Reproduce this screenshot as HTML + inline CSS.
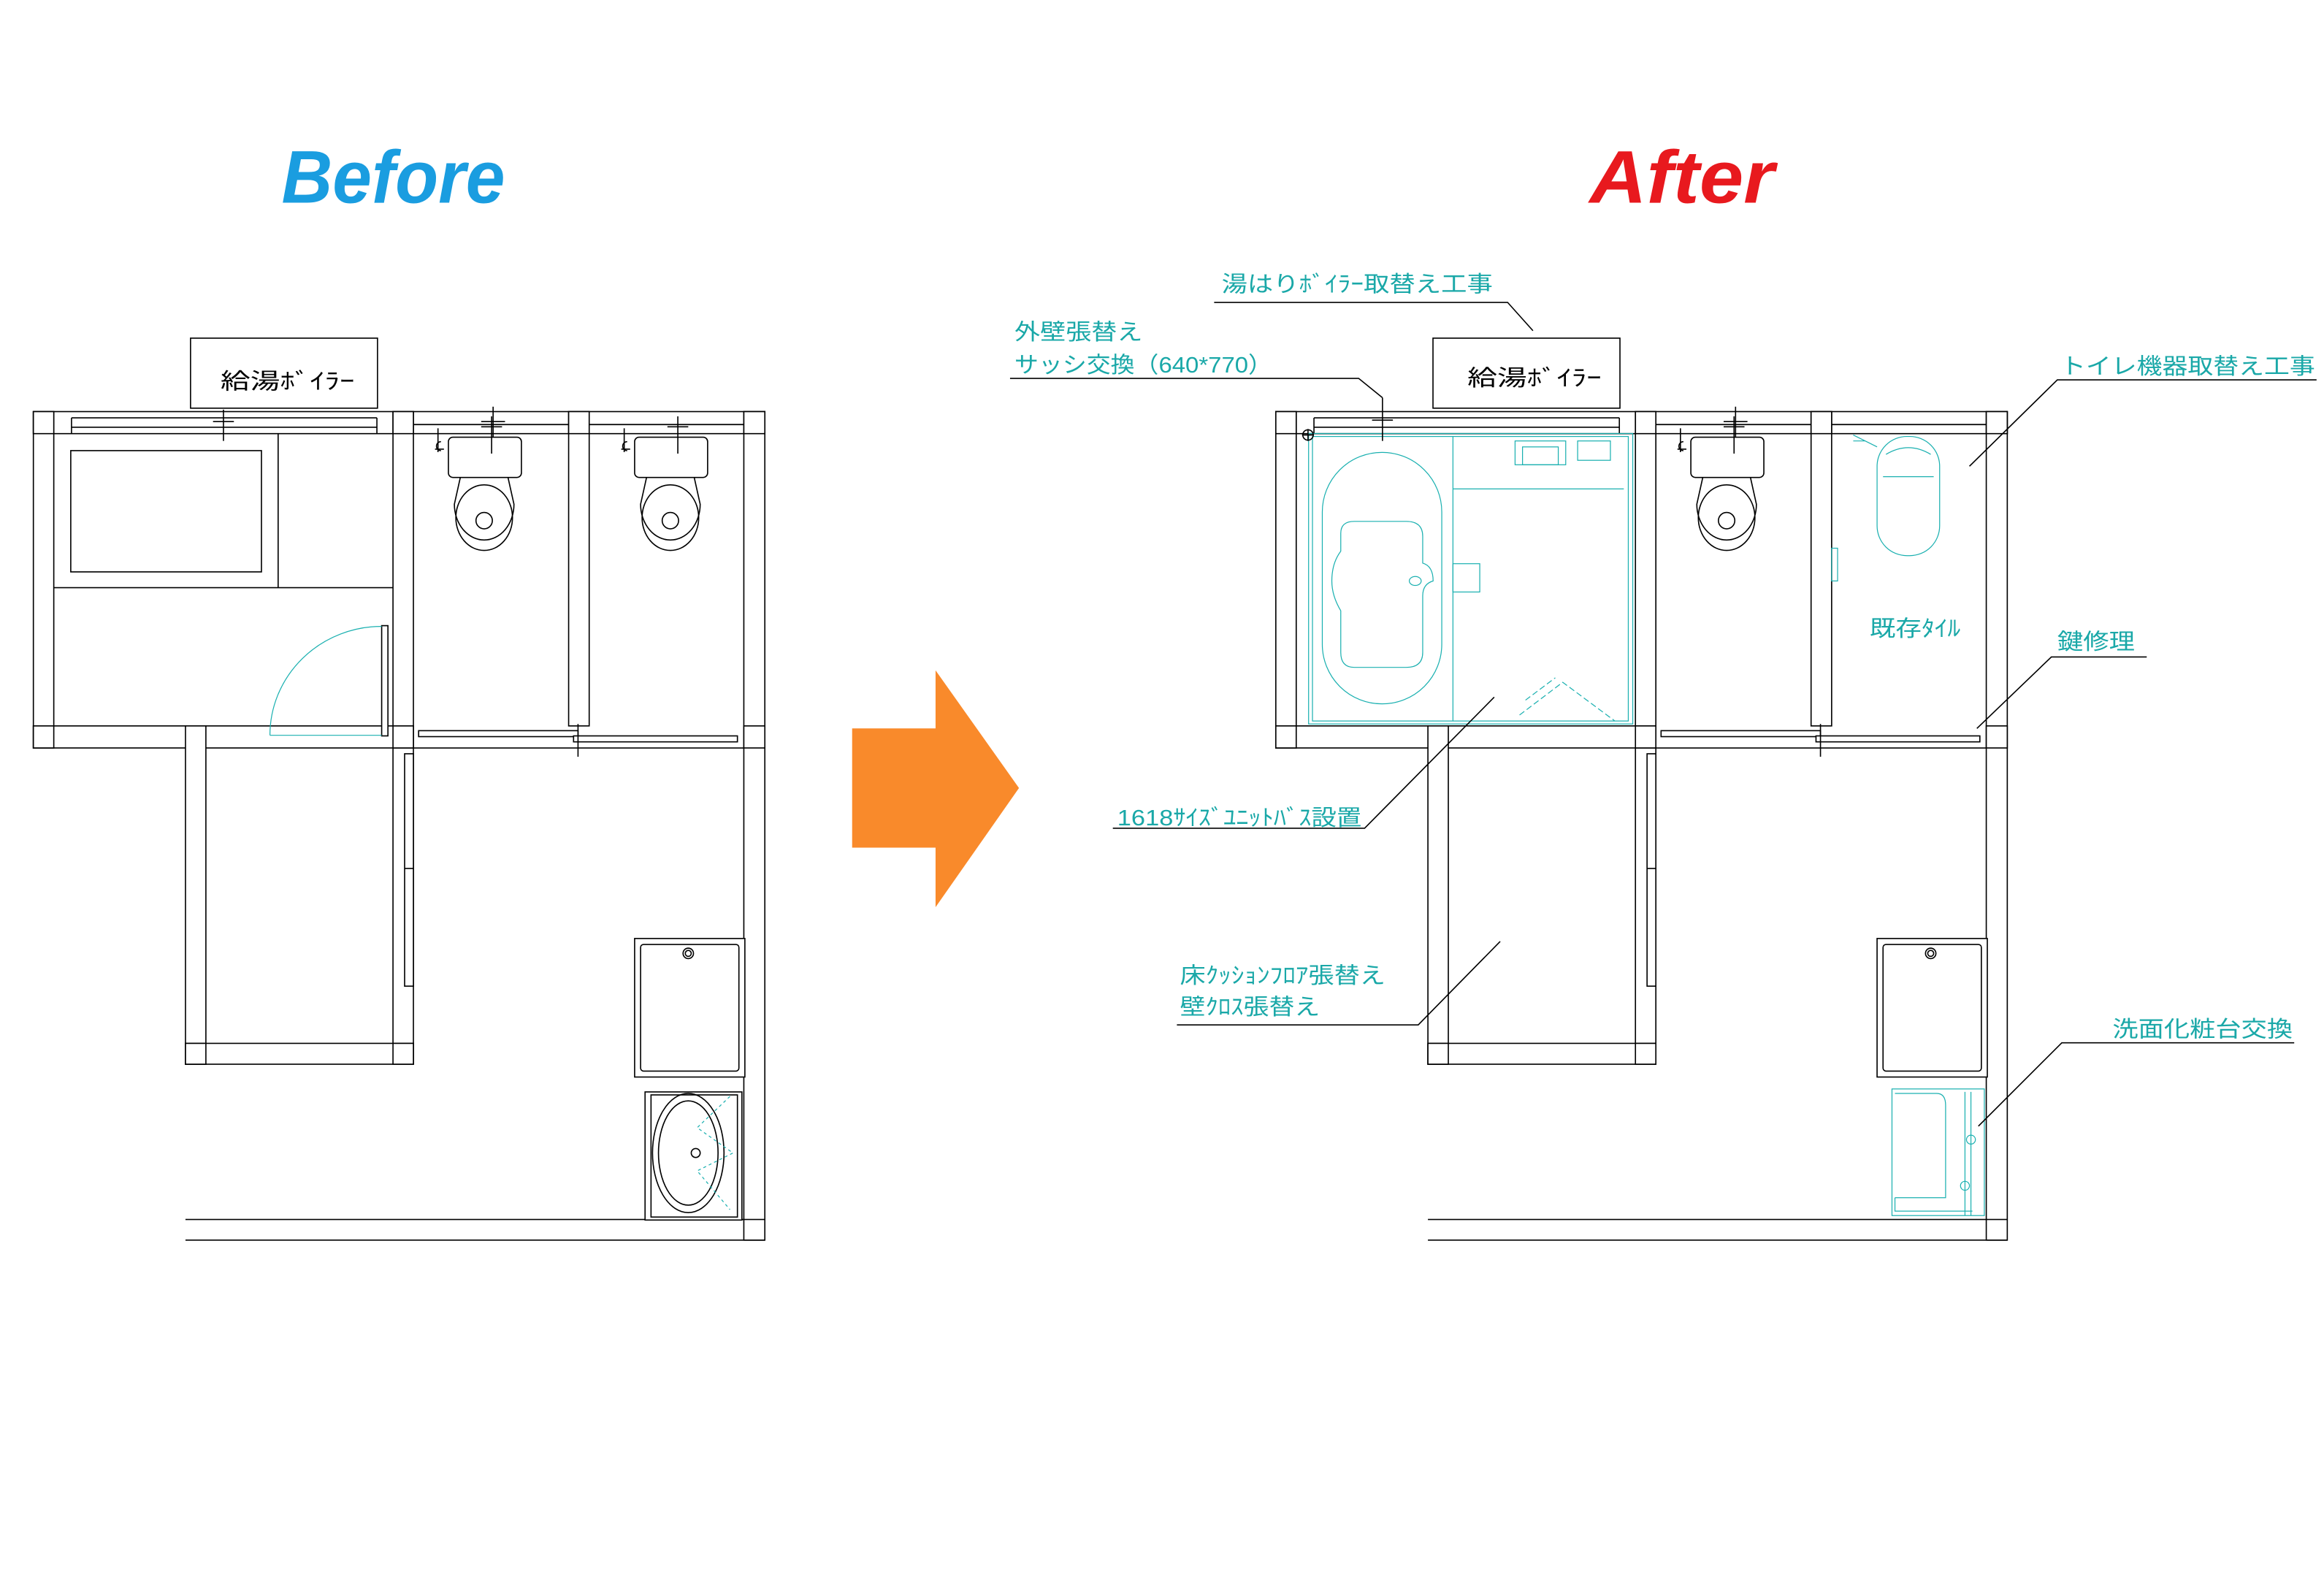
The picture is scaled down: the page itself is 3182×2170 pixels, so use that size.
<!DOCTYPE html>
<html><head><meta charset="utf-8"><style>
html,body{margin:0;padding:0;background:#fff;width:3182px;height:2170px;overflow:hidden}
svg{display:block}
.w{fill:#fff;stroke:#000;stroke-width:0.8}
.l{stroke:#000;stroke-width:0.8;fill:none}
.c{stroke:#1ab0b0;stroke-width:0.6;fill:none}
.t{font-family:"Liberation Sans","Noto Sans CJK JP",sans-serif;font-size:15px;fill:#1aa8a8}
.k{font-family:"Liberation Sans","Noto Sans CJK JP",sans-serif;font-size:15px;fill:#000}
</style></head><body>
<svg width="3182" height="2170" viewBox="0 0 1560 1064" preserveAspectRatio="none" xmlns="http://www.w3.org/2000/svg">
<defs>
<g id="plan">
 <!-- boiler box -->
 <rect class="w" x="127.9" y="227" width="125.5" height="47"/>
 <!-- top wall -->
 <rect class="w" x="22.4" y="276.3" width="491" height="14.8"/>
 <line class="l" x1="48" y1="280.5" x2="253" y2="280.5"/>
 <line class="l" x1="48" y1="286.8" x2="253" y2="286.8"/>
 <line class="l" x1="48" y1="280.5" x2="48" y2="291"/>
 <line class="l" x1="253" y1="280.5" x2="253" y2="291"/>
 <line class="l" x1="277.5" y1="285" x2="381.7" y2="285"/>
 <line class="l" x1="395.5" y1="285" x2="499.3" y2="285"/>
 <!-- upper left wall -->
 <rect class="w" x="22.4" y="276.3" width="13.7" height="225.8"/>
 <rect class="w" x="22.4" y="276.3" width="13.7" height="14.8"/>
 <!-- bath/toilet wall -->
 <rect class="w" x="263.8" y="276.3" width="13.7" height="438"/>
 <rect class="w" x="263.8" y="276.3" width="13.7" height="14.8"/>
 <!-- toilet divider -->
 <rect class="w" x="381.7" y="276.3" width="13.8" height="211"/>
 <rect class="w" x="381.7" y="276.3" width="13.8" height="14.8"/>
 <!-- right wall -->
 <rect class="w" x="499.3" y="276.3" width="14.1" height="556.2"/>
 <rect class="w" x="499.3" y="276.3" width="14.1" height="14.8"/>
 <rect class="w" x="499.3" y="487.3" width="14.1" height="14.8"/>
 <!-- lower wall of bath -->
 <rect class="w" x="22.4" y="487.3" width="255" height="14.8"/>
 <rect class="w" x="22.4" y="487.3" width="13.7" height="14.8"/>
 <rect class="w" x="263.8" y="487.3" width="13.7" height="14.8"/>
 <!-- toilet sliding doors -->
 <rect class="w" x="281" y="490.5" width="107" height="4"/>
 <rect class="w" x="385" y="494" width="110" height="4"/>
 <line class="l" x1="277.5" y1="502.1" x2="499.3" y2="502.1"/>
 <line class="l" x1="388" y1="486" x2="388" y2="508"/>
 <!-- closet -->
 <rect class="w" x="124.5" y="487.3" width="13.7" height="227.1"/>
 <rect class="w" x="124.5" y="700.4" width="153" height="14"/>
 <rect class="w" x="124.5" y="700.4" width="13.7" height="14"/>
 <rect class="w" x="263.8" y="700.4" width="13.7" height="14"/>
 <rect class="w" x="271.6" y="506" width="5.9" height="156"/>
 <line class="l" x1="271.6" y1="583" x2="277.5" y2="583"/>
 <!-- floor lines -->
 <line class="l" x1="124.5" y1="818.6" x2="513.4" y2="818.6"/>
 <line class="l" x1="124.5" y1="832.5" x2="513.4" y2="832.5"/>
 <!-- washing pan -->
 <rect class="w" x="426" y="630" width="74" height="93"/>
 <rect class="w" x="430" y="634" width="66" height="85" rx="2"/>
 <circle class="l" cx="462" cy="640" r="3.5"/>
 <circle class="l" cx="462" cy="640" r="2"/>
 <!-- toilet tank line marks -->
 <line class="l" x1="331" y1="273" x2="331" y2="296"/><line class="l" x1="323" y1="283" x2="339" y2="283"/>
</g>
<g id="toilet">
 <rect class="w" x="0" y="0" width="49" height="27" rx="3"/>
 <path class="l" d="M8,27 L4,45 A20,24 0 1 0 44,45 L40,27"/>
 <ellipse class="l" cx="24" cy="54" rx="19" ry="22"/>
 <ellipse class="l" cx="24" cy="56" rx="5.5" ry="5.5"/>
 <line class="l" x1="-7" y1="-6" x2="-7" y2="10"/>
 <path class="l" d="M-5,3 A3,3 0 1 0 -5,9 M-9,8 L-3,8"/>
 <line class="l" x1="29" y1="-14" x2="29" y2="11"/><line class="l" x1="22" y1="-7" x2="36" y2="-7"/>
</g>
</defs>

<!-- Titles -->
<text x="264" y="136" text-anchor="middle" style="font-family:'Liberation Sans',sans-serif;font-weight:bold;font-style:italic;font-size:50px;fill:#1a9de0" textLength="150" lengthAdjust="spacingAndGlyphs">Before</text>
<text x="1129" y="136" text-anchor="middle" style="font-family:'Liberation Sans',sans-serif;font-weight:bold;font-style:italic;font-size:50px;fill:#e8191e" textLength="124" lengthAdjust="spacingAndGlyphs">After</text>

<!-- arrow -->
<polygon points="572,489 628,489 628,450 684,529 628,609 628,569 572,569" fill="#f98a2b"/>

<!-- BEFORE -->
<use href="#plan"/>
<text class="k" x="148" y="261" textLength="90" lengthAdjust="spacingAndGlyphs">給湯ﾎﾞｲﾗｰ</text>
<line class="l" x1="150" y1="275" x2="150" y2="296"/><line class="l" x1="143" y1="283" x2="157" y2="283"/>
<!-- bath fixtures -->
<line class="l" x1="36.1" y1="394.5" x2="263.8" y2="394.5"/>
<line class="l" x1="186.7" y1="291" x2="186.7" y2="394.5"/>
<rect class="l" x="47.5" y="302.5" width="128" height="81.4"/>
<rect class="w" x="256.2" y="420" width="4.2" height="74"/>
<path class="c" d="M181.2,493.6 A75,73 0 0 1 256.2,420.5 M181.2,493.6 L256.2,493.6"/>
<use href="#toilet" x="301" y="293.5"/>
<use href="#toilet" x="426" y="293.5"/>
<!-- sink -->
<rect class="w" x="433" y="733" width="65" height="86"/>
<rect class="l" x="437" y="735" width="58" height="82"/>
<ellipse class="l" cx="462" cy="774" rx="24" ry="40"/>
<ellipse class="l" cx="462" cy="774" rx="20" ry="35"/>
<circle class="l" cx="467" cy="774" r="3"/>
<path class="c" d="M490,736 L468,757 L492,774 L468,786 L490,812" stroke-dasharray="2,2"/>

<!-- AFTER -->
<g transform="translate(834,0)">
<use href="#plan"/>
<text class="k" x="151" y="259" textLength="90" lengthAdjust="spacingAndGlyphs">給湯ﾎﾞｲﾗｰ</text>
<use href="#toilet" x="301" y="293.5"/>
<!-- unit bath -->
<rect class="c" x="44.4" y="291" width="217.6" height="195"/>
<rect class="c" x="47" y="293" width="212" height="191"/>
<line class="c" x1="141.3" y1="293" x2="141.3" y2="484"/>
<line class="c" x1="141.3" y1="328.2" x2="256" y2="328.2"/>
<rect class="c" x="183" y="296" width="34" height="16"/>
<rect class="c" x="188" y="300" width="24" height="12"/>
<rect class="c" x="225" y="296" width="22" height="13"/>
<rect class="c" x="141.3" y="378.4" width="18" height="19"/>
<rect class="c" x="53.6" y="303.7" width="80.2" height="168.8" rx="40"/>
<path class="c" d="M66,358 Q66,350 75,350 L110,350 Q121,350 121,360 L121,378 Q128,380 128,390 Q121,392 121,400 L121,438 Q121,448 110,448 L75,448 Q66,448 66,438 L66,410 Q60,400 60,390 Q60,378 66,370 Z"/>
<ellipse class="c" cx="116" cy="390" rx="4" ry="3"/>
<path class="c" d="M186,480 L215,458 L250,484 M190,470 L210,455" stroke-dasharray="4,2"/>
<circle class="l" cx="44" cy="292" r="3.5"/><line class="l" x1="40" y1="292" x2="48" y2="292"/><line class="l" x1="44" y1="288" x2="44" y2="296"/>
<!-- toilet right (new) -->
<rect class="c" x="426" y="293" width="42" height="80" rx="20"/>
<path class="c" d="M430,320 L464,320 M432,305 Q447,296 462,305"/>
<path class="c" d="M410,292 L426,300 M410,296 L418,296" />
<rect class="c" x="395.5" y="368" width="4" height="22"/>
<text class="t" x="421" y="427" textLength="61" lengthAdjust="spacingAndGlyphs">既存ﾀｲﾙ</text>
<!-- vanity -->
<rect class="c" x="436" y="731" width="62" height="85"/>
<path class="c" d="M438,734 L466,734 Q472,734 472,742 L472,804 L438,804 M438,804 L438,813 L490,813 M485,733 L485,816 M489,733 L489,816"/>
<circle class="c" cx="489" cy="765" r="3"/><circle class="c" cx="485" cy="796" r="3"/>
</g>

<!-- Leaders After -->
<text class="t" x="820" y="196" textLength="182" lengthAdjust="spacingAndGlyphs">湯はりﾎﾞｲﾗｰ取替え工事</text>
<polyline class="l" points="815,203 1012,203 1029,222"/>
<text class="t" x="681" y="228" textLength="86" lengthAdjust="spacingAndGlyphs">外壁張替え</text>
<text class="t" x="681" y="250" textLength="173" lengthAdjust="spacingAndGlyphs">サッシ交換（640*770）</text>
<polyline class="l" points="678,254 912,254 928,267"/>
<text class="t" x="1383" y="251" textLength="171" lengthAdjust="spacingAndGlyphs">トイレ機器取替え工事</text>
<polyline class="l" points="1555,255 1381,255 1322,313"/>
<text class="t" x="1381" y="436" textLength="52" lengthAdjust="spacingAndGlyphs">鍵修理</text>
<polyline class="l" points="1441,441 1377,441 1327,489"/>
<text class="t" x="750" y="554" textLength="164" lengthAdjust="spacingAndGlyphs">1618ｻｲｽﾞﾕﾆｯﾄﾊﾞｽ設置</text>
<polyline class="l" points="747,556 916,556 1003,468"/>
<text class="t" x="792" y="660" textLength="138" lengthAdjust="spacingAndGlyphs">床ｸｯｼｮﾝﾌﾛｱ張替え</text>
<text class="t" x="792" y="681" textLength="94" lengthAdjust="spacingAndGlyphs">壁ｸﾛｽ張替え</text>
<polyline class="l" points="790,688 952,688 1007,632"/>
<text class="t" x="1418" y="696" textLength="121" lengthAdjust="spacingAndGlyphs">洗面化粧台交換</text>
<polyline class="l" points="1540,700 1384,700 1328,756"/>
<line class="l" x1="928" y1="267" x2="928" y2="296"/><line class="l" x1="921" y1="282" x2="935" y2="282"/>
</svg>
</body></html>
